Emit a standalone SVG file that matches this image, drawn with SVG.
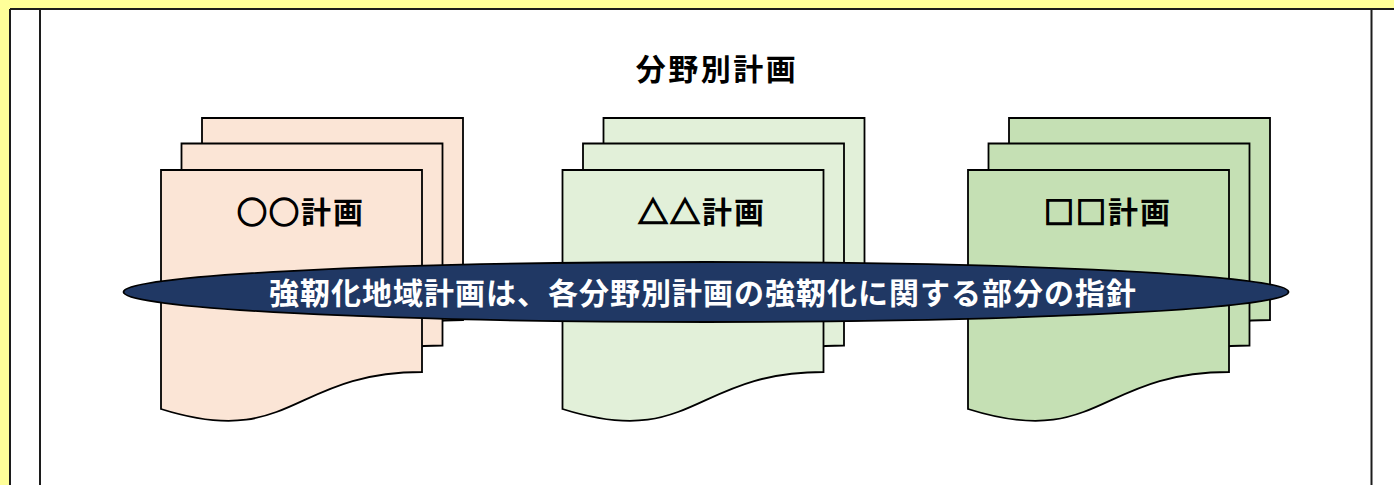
<svg xmlns="http://www.w3.org/2000/svg" width="1394" height="485" viewBox="0 0 1394 485">
  <defs>
    <path id="doc" d="M0,0 H261 V202 C130.5,202 130.5,280 0,239 Z"/>
    <style>
      .frame { fill: none; stroke: #1c1c1c; stroke-width: 2; }
      .doc { stroke: #000; stroke-width: 1.8; stroke-linejoin: miter; }
      .peach { fill: #FBE5D6; }
      .lgreen { fill: #E2F0D9; }
      .green { fill: #C5E0B4; }
      .t { font-family: "Noto Sans CJK JP", "Noto Sans CJK SC", sans-serif; font-weight: bold; }
      .title { font-size: 30px; fill: #000; letter-spacing: 2.5px; }
      .label { font-size: 30px; fill: #000; letter-spacing: 2px; }
      .sym { stroke: #000; stroke-width: 1.6px; }
      .band { font-size: 30px; fill: #fff; letter-spacing: 1px; }
    </style>
  </defs>
  <rect x="0" y="0" width="1394" height="485" fill="#FFFF99"/>
  <rect x="10" y="9" width="1390" height="480" fill="#fff"/>
  <g id="frame">
    <line class="frame" x1="10" y1="9" x2="1394" y2="9"/>
    <line class="frame" x1="10" y1="9" x2="10" y2="485"/>
    <line class="frame" x1="40" y1="9" x2="40" y2="485"/>
    <line class="frame" x1="1371.5" y1="9" x2="1371.5" y2="485"/>
  </g>
  <g id="title">
    <text class="t title" x="717" y="80" text-anchor="middle">分野別計画</text>
  </g>
  <g id="plan1">
    <use href="#doc" class="doc peach" x="202" y="118"/>
    <use href="#doc" class="doc peach" x="181.5" y="143.5"/>
    <use href="#doc" class="doc peach" x="161" y="170"/>
    <text class="t label" x="301" y="223" text-anchor="middle"><tspan class="sym">○○</tspan>計画</text>
  </g>
  <g id="plan2">
    <use href="#doc" class="doc lgreen" x="603.5" y="118"/>
    <use href="#doc" class="doc lgreen" x="583" y="143.5"/>
    <use href="#doc" class="doc lgreen" x="562.5" y="170"/>
    <text class="t label" x="702" y="223" text-anchor="middle"><tspan class="sym">△△</tspan>計画</text>
  </g>
  <g id="plan3">
    <use href="#doc" class="doc green" x="1009" y="118"/>
    <use href="#doc" class="doc green" x="988.5" y="143.5"/>
    <use href="#doc" class="doc green" x="968" y="170"/>
    <text class="t label" x="1108" y="223" text-anchor="middle"><tspan class="sym">□□</tspan>計画</text>
  </g>
  <g id="band">
    <ellipse cx="706" cy="292" rx="582.5" ry="30" fill="#203864" stroke="#000" stroke-width="1.8"/>
    <text class="t band" x="703" y="304" text-anchor="middle">強靭化地域計画は、各分野別計画の強靭化に関する部分の指針</text>
  </g>
  <g id="connectors"/>
</svg>
